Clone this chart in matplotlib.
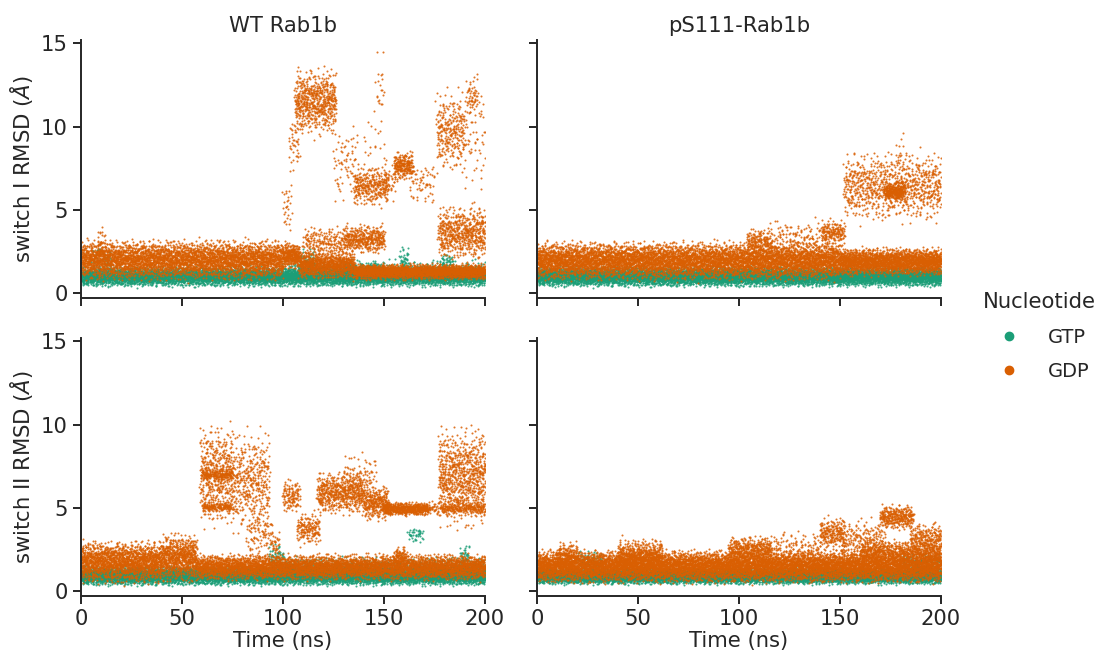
import numpy as np
import matplotlib
matplotlib.use("Agg")
import matplotlib.pyplot as plt
from matplotlib.lines import Line2D

# blocks: [t_start, t_end, y_low, y_high, points_per_ns]
wt_s1_gtp = [[0, 200, 0.5, 1.5, 40], [5, 15, 1.2, 2.8, 6], [108, 116, 1.2, 2.6, 8],
             [128, 150, 1.1, 1.9, 6], [158, 162, 1.4, 2.7, 10], [178, 184, 1.3, 2.4, 8],
             [100, 200, 1.0, 2.0, 3]]
wt_s1_gdp = [[0, 100, 1.0, 3.0, 40], [8, 12, 2.0, 3.8, 10], [100, 108, 1.6, 2.9, 40],
             [100, 104, 3.0, 7.0, 8], [103, 108, 7.5, 10.5, 8], [106, 126, 9.8, 13.2, 30],
             [108, 135, 1.0, 2.4, 35], [110, 130, 2.2, 3.9, 10], [130, 150, 2.5, 4.0, 20],
             [125, 137, 5.5, 10.0, 6], [135, 152, 5.4, 7.5, 18], [140, 150, 7.0, 11.0, 2],
             [146, 150, 10.5, 14.5, 5], [135, 200, 0.9, 1.7, 35], [150, 156, 5.8, 7.8, 6],
             [155, 164, 6.9, 8.4, 25], [163, 175, 5.4, 7.8, 5], [176, 190, 7.6, 11.8, 20],
             [177, 200, 2.2, 5.0, 25], [190, 200, 5.8, 12.8, 6], [191, 196, 10.8, 12.9, 10]]
ps_s1_gtp = [[0, 200, 0.5, 1.5, 45]]
ps_s1_gdp = [[0, 150, 1.0, 2.9, 45], [150, 200, 1.2, 2.6, 45], [104, 116, 2.4, 3.8, 15],
             [116, 145, 2.4, 4.3, 5], [141, 152, 3.0, 4.3, 15], [152, 200, 4.6, 8.2, 18],
             [172, 182, 5.6, 6.6, 25], [178, 182, 7.0, 9.5, 4]]
wt_s2_gtp = [[0, 200, 0.45, 1.4, 45], [93, 100, 1.2, 2.8, 10], [100, 200, 1.0, 2.0, 6],
             [162, 169, 3.0, 3.8, 6], [188, 192, 1.5, 2.7, 10]]
wt_s2_gdp = [[0, 40, 0.7, 2.8, 45], [40, 57, 0.8, 3.2, 45], [57, 200, 0.8, 2.1, 35],
             [59, 75, 4.4, 9.6, 30], [60, 75, 6.7, 7.3, 10], [60, 75, 4.8, 5.3, 10],
             [75, 93, 4.0, 9.2, 22], [82, 95, 2.0, 4.8, 8], [95, 98, 1.8, 3.5, 10],
             [100, 108, 4.8, 6.6, 15], [107, 118, 2.9, 4.6, 15], [117, 140, 4.8, 7.0, 25],
             [130, 146, 5.5, 8.2, 6], [140, 152, 4.4, 6.2, 25], [150, 172, 4.6, 5.3, 25],
             [172, 177, 4.7, 5.3, 6], [177, 200, 4.3, 9.4, 35], [155, 161, 1.6, 2.6, 15],
             [178, 200, 4.7, 5.3, 10]]
ps_s2_gtp = [[0, 200, 0.5, 1.3, 45], [20, 32, 1.2, 2.4, 8], [180, 200, 1.2, 2.2, 6]]
ps_s2_gdp = [[0, 200, 0.7, 2.3, 50], [10, 20, 1.5, 2.9, 15], [40, 62, 1.2, 3.0, 25],
             [95, 116, 1.8, 3.2, 20], [116, 140, 1.8, 3.5, 5], [140, 152, 2.6, 4.3, 18],
             [150, 172, 1.9, 4.2, 10], [170, 186, 3.8, 5.1, 20], [185, 200, 2.4, 4.0, 15],
             [160, 200, 1.8, 3.0, 15]]

proteins = ["WT Rab1b", "pS111-Rab1b"]
switches = ["switch I", "switch II"]
nucleotides = ["GTP", "GDP"]
colors = {"GTP": "#1b9e77", "GDP": "#d95f02"}

panels = {(0, 0): (wt_s1_gtp, wt_s1_gdp), (0, 1): (ps_s1_gtp, ps_s1_gdp),
          (1, 0): (wt_s2_gtp, wt_s2_gdp), (1, 1): (ps_s2_gtp, ps_s2_gdp)}


def vdc(idx, base):
    # van der Corput sequence, spreads the dots evenly inside a block
    out = np.zeros(len(idx))
    f = 1.0 / base
    i = idx.copy()
    while np.any(i > 0):
        out += f * (i % base)
        i //= base
        f /= base
    return out


def cloud(blocks, start):
    ts, ys = [], []
    k = start
    for t0, t1, lo, hi, rate in blocks:
        n = int(rate * (t1 - t0))
        idx = np.arange(k, k + n)
        k += n
        u = vdc(idx, 2) + (vdc(idx, 11) - 0.5) * 1.5 / (t1 - t0)
        v = (vdc(idx, 3) + vdc(idx, 5) + vdc(idx, 7)) / 3 - 0.5
        ts.append(np.clip(t0 + (t1 - t0) * u, 0, 200))
        ys.append((lo + hi) / 2 + (hi - lo) * 1.45 * v)
    return np.concatenate(ts), np.concatenate(ys)


text_c = "#262626"
plt.rcParams["font.family"] = ["DejaVu Sans"]
plt.rcParams["axes.edgecolor"] = text_c
plt.rcParams["xtick.color"] = text_c
plt.rcParams["ytick.color"] = text_c
plt.rcParams["text.color"] = text_c
plt.rcParams["axes.labelcolor"] = text_c

fig = plt.figure(figsize=(11, 6.55), dpi=100)
lefts = [81 / 1100, 537 / 1100]
bottoms = [1 - 298 / 655, 1 - 596 / 655]
w = 404 / 1100
h = 258 / 655
fs = 15.2

for (r, c), (gtp, gdp) in panels.items():
    ax = fig.add_axes([lefts[c], bottoms[r], w, h])
    k = 1
    for nuc, blocks in zip(nucleotides, (gtp, gdp)):
        t, y = cloud(blocks, k)
        k += len(t) + 7
        ax.scatter(t, y, s=2.2, color=colors[nuc], linewidths=0, alpha=0.85)
    ax.set_xlim(0, 200)
    ax.set_ylim(-0.3, 15.2)
    ax.set_xticks([0, 50, 100, 150, 200])
    ax.set_yticks([0, 5, 10, 15])
    for s in ["top", "right"]:
        ax.spines[s].set_visible(False)
    for s in ["left", "bottom"]:
        ax.spines[s].set_linewidth(1.4)
    ax.tick_params(length=6, width=1.4, labelsize=fs)
    if r == 0:
        ax.set_title(proteins[c], fontsize=fs)
        ax.tick_params(labelbottom=False)
    else:
        ax.set_xlabel("Time (ns)", fontsize=fs, labelpad=1)
    if c == 0:
        ax.set_ylabel(switches[r] + r" RMSD ($\AA$)", fontsize=fs)
    else:
        ax.tick_params(labelleft=False)

handles = [Line2D([], [], marker="o", ls="", color=colors[n], markersize=6) for n in nucleotides]
fig.legend(handles, nucleotides, title="Nucleotide", loc="center left",
           bbox_to_anchor=(0.878, 0.486), frameon=False, fontsize=14, title_fontsize=fs,
           handletextpad=1.0, labelspacing=0.8)

fig.savefig("out.png", dpi=100)
